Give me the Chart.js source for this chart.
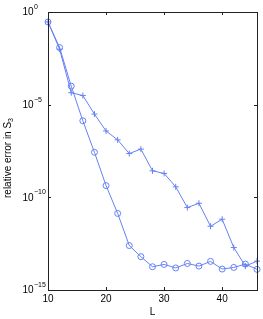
<!DOCTYPE html>
<html>
<head>
<meta charset="utf-8">
<script src="https://cdn.jsdelivr.net/npm/chart.js@4.4.1/dist/chart.umd.min.js"></script>
<style>
  html, body { margin: 0; padding: 0; background: #fff; }
  canvas { display: block; }
</style>
</head>
<body>
<canvas id="chart" width="263" height="319"></canvas>
<script>
// L values and relative errors
const L = [10, 12, 14, 16, 18, 20, 22, 24, 26, 28, 30, 32, 34, 36, 38, 40, 42, 44, 46];
const errCircle = [2.9e-1, 1.2e-2, 1.0e-4, 1.35e-6, 2.7e-8, 4.3e-10, 1.35e-11, 2.5e-13, 6.3e-14, 1.8e-14,
  2.4e-14, 1.55e-14, 2.7e-14, 1.95e-14, 3.5e-14, 1.35e-14, 1.65e-14, 2.5e-14, 1.3e-14];
const errPlus = [2.9e-1, 9.8e-3, 4.4e-5, 3.1e-5, 3.1e-6, 3.8e-7, 1.26e-7, 2.3e-8, 4.0e-8, 2.7e-9,
  1.95e-9, 3.7e-10, 2.8e-11, 4.8e-11, 2.75e-12, 6.6e-12, 1.95e-13, 1.95e-14, 3.6e-14];

const xTicks = [10, 20, 30, 40];
const yTickExp = [0, -5, -10, -15];
const xTitle = 'L';
const yTitle = 'relative error in S';
const yTitleSub = '3';

const blue = '#6680f5';
const FONT = '"Liberation Sans", Arial, sans-serif';

function pts(ys) { return L.map((x, i) => ({ x: x, y: ys[i] })); }
function expStr(e) { return e < 0 ? '\u2212' + (-e) : String(e); }

// matlab-ish axes: box, inward ticks, 10^n labels
const matlabAxes = {
  id: 'matlabAxes',
  afterDraw(chart) {
    const ctx = chart.ctx;
    const a = chart.chartArea;
    const xs = chart.scales.x, ys = chart.scales.y;
    const tl = 3;
    ctx.save();
    ctx.strokeStyle = '#222';
    ctx.lineWidth = 1;
    ctx.strokeRect(Math.round(a.left) + 0.5, Math.round(a.top) + 0.5,
      Math.round(a.right - a.left), Math.round(a.bottom - a.top));

    ctx.beginPath();
    xTicks.forEach(t => {
      const px = Math.round(xs.getPixelForValue(t)) + 0.5;
      ctx.moveTo(px, a.bottom); ctx.lineTo(px, a.bottom - tl);
      ctx.moveTo(px, a.top); ctx.lineTo(px, a.top + tl);
    });
    yTickExp.forEach(e => {
      const py = Math.round(ys.getPixelForValue(Math.pow(10, e))) + 0.5;
      ctx.moveTo(a.left, py); ctx.lineTo(a.left + tl, py);
      ctx.moveTo(a.right, py); ctx.lineTo(a.right - tl, py);
    });
    ctx.stroke();

    ctx.fillStyle = '#000';
    ctx.font = '10px ' + FONT;
    ctx.textAlign = 'center';
    ctx.textBaseline = 'middle';
    xTicks.forEach(t => {
      ctx.fillText(String(t), xs.getPixelForValue(t), a.bottom + 9);
    });
    ctx.fillText(xTitle, (a.left + a.right) / 2, a.bottom + 22);

    const baseX = 33.5;
    yTickExp.forEach(e => {
      const py = ys.getPixelForValue(Math.pow(10, e));
      ctx.font = '10px ' + FONT;
      ctx.textAlign = 'right';
      ctx.fillText('10', baseX, py + 0.5);
      ctx.font = '7px ' + FONT;
      ctx.textAlign = 'left';
      ctx.fillText(expStr(e), baseX + 0.5, py - 5);
    });

    // rotated y title with subscript
    ctx.translate(8, 158);
    ctx.rotate(-Math.PI / 2);
    ctx.font = '10px ' + FONT;
    const w1 = ctx.measureText(yTitle).width;
    ctx.font = '7px ' + FONT;
    const w2 = ctx.measureText(yTitleSub).width;
    const x0 = -(w1 + w2) / 2;
    ctx.textAlign = 'left';
    ctx.font = '10px ' + FONT;
    ctx.fillText(yTitle, x0, 0);
    ctx.font = '7px ' + FONT;
    ctx.fillText(yTitleSub, x0 + w1, 3);
    ctx.restore();
  }
};

new Chart(document.getElementById('chart'), {
  type: 'line',
  data: {
    datasets: [
      {
        label: 'o',
        data: pts(errCircle),
        borderColor: blue,
        borderWidth: 1,
        pointStyle: 'circle',
        pointRadius: 3,
        pointBorderWidth: 1,
        pointBorderColor: blue,
        pointBackgroundColor: 'rgba(0,0,0,0)',
        tension: 0,
        clip: false
      },
      {
        label: '+',
        data: pts(errPlus),
        borderColor: blue,
        borderWidth: 1,
        pointStyle: 'cross',
        pointRadius: 3,
        pointBorderWidth: 1,
        pointBorderColor: blue,
        tension: 0,
        clip: false
      }
    ]
  },
  options: {
    responsive: false,
    animation: false,
    layout: { padding: { left: 48, right: 6, top: 12, bottom: 29 } },
    scales: {
      x: { type: 'linear', min: 10, max: 46, display: false },
      y: { type: 'logarithmic', min: 1e-15, max: 1, display: false }
    },
    plugins: {
      legend: { display: false },
      tooltip: { enabled: false }
    }
  },
  plugins: [matlabAxes]
});
</script>
</body>
</html>
